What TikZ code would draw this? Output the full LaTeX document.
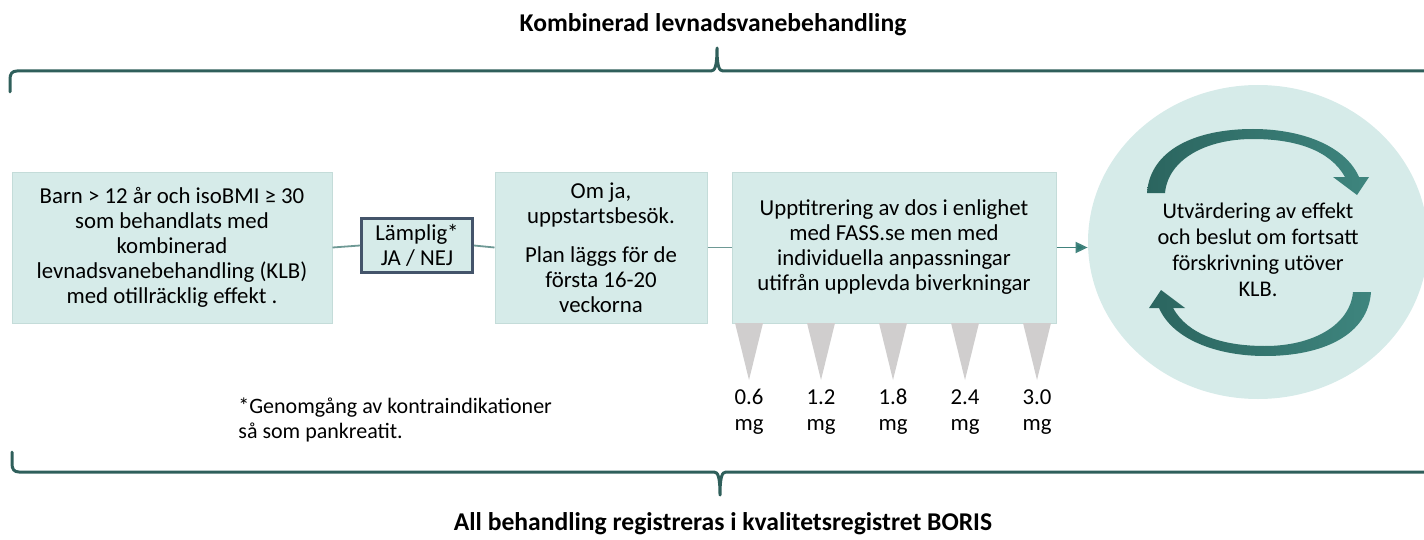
\documentclass[tikz,border=0pt]{standalone}
\usepackage{fontspec}
\setmainfont{Carlito}
\usetikzlibrary{arrows.meta,shapes.geometric}

\definecolor{boxfill}{HTML}{D6EBE9}
\definecolor{boxedge}{HTML}{C4DCD9}
\definecolor{frameblue}{HTML}{44546A}
\definecolor{bracecol}{HTML}{2F5F5B}
\definecolor{linkcol}{HTML}{6E9995}
\definecolor{arrowcol}{HTML}{2E7A72}
\definecolor{cycdark}{HTML}{2B655F}
\definecolor{cyclight}{HTML}{3E857E}
\definecolor{dosetri}{HTML}{D0CECE}

\newcommand{\bodyfont}{\fontsize{11.4}{12.5}\selectfont}
\newcommand{\headfont}{\fontsize{12.8}{14}\selectfont\bfseries}

\begin{document}
\begin{tikzpicture}[x=0.5pt,y=-0.5pt,
  stepbox/.style={fill=boxfill, draw=boxedge, line width=0.5pt, align=center,
    font=\bodyfont, inner sep=0pt},
  choicebox/.style={fill=boxfill, draw=frameblue, line width=1.5pt, align=center,
    font=\bodyfont, inner sep=0pt, minimum width=55.5pt, minimum height=27pt},
  plain/.style={font=\bodyfont, inner sep=0pt, align=center},
  heading/.style={font=\headfont, inner sep=0pt},
  link/.style={draw=linkcol, line width=0.9pt},
  brace/.style={draw=bracecol, line width=1.5pt, line cap=round, line join=round},
  cyclearrow/.style={left color=cycdark, right color=cyclight, draw=none}
]
\useasboundingbox (0,0) rectangle (1424,540);

% headings
\node[heading] (toptitle) at (713,25) {Kombinerad levnadsvanebehandling};
\node[heading] (bottitle) at (723,524) {All behandling registreras i kvalitetsregistret BORIS};

% braces
\draw[brace] (10,92) -- (10,79) .. controls (10,74) and (12,71) .. (17,71)
  -- (711,71) .. controls (715,71) and (717,66) .. (717,48)
  .. controls (717,66) and (719,71) .. (723,71) -- (1430,71);
\draw[brace] (12,452) -- (12,464) .. controls (12,469) and (14,472) .. (19,472)
  -- (714,472) .. controls (718,472) and (720,477) .. (720,495)
  .. controls (720,477) and (722,472) .. (726,472) -- (1430,472);

% process boxes
\node[stepbox, minimum width=160pt, minimum height=75.5pt] (start) at (172,247.5)
  {Barn > 12 år och isoBMI ≥ 30\\som behandlats med\\kombinerad\\levnadsvanebehandling (KLB)\\med otillräcklig effekt .};
\node[choicebox] (choice) at (417,245.5) {Lämplig*\\JA / NEJ};
\node[stepbox, minimum width=106pt, minimum height=75.5pt] (visit) at (601,247.5)
  {Om ja,\\uppstartsbesök.\\[7pt]Plan läggs för de\\första 16-20\\veckorna};
\node[stepbox, minimum width=162pt, minimum height=75.5pt] (titrate) at (894,247.5)
  {Upptitrering av dos i enlighet\\med FASS.se men med\\individuella anpassningar\\utifrån upplevda biverkningar};

% evaluation circle
\node[ellipse, fill=boxfill, draw=none, minimum width=170pt, minimum height=157pt,
  inner sep=0pt] (evalc) at (1258,242) {};
\node[plain, font=\fontsize{11.2}{13}\selectfont] (evalt) at (1258,250)
  {Utvärdering av effekt\\och beslut om fortsatt\\förskrivning utöver\\KLB.};

% cycle arrows inside the circle
\path[cyclearrow] (1147,193) .. controls (1150,150) and (1195,129) .. (1253,129)
  .. controls (1300,129) and (1345,145) .. (1359,177)
  -- (1369,177) -- (1357,195) -- (1333,177) -- (1345,177)
  .. controls (1330,150) and (1295,139) .. (1253,139)
  .. controls (1205,139) and (1168,160) .. (1165,193) -- cycle;
\begin{scope}[rotate around={180:(1259,242.5)}]
\path[cyclearrow] (1147,193) .. controls (1150,150) and (1195,129) .. (1253,129)
  .. controls (1300,129) and (1345,145) .. (1359,177)
  -- (1369,177) -- (1357,195) -- (1333,177) -- (1345,177)
  .. controls (1330,150) and (1295,139) .. (1253,139)
  .. controls (1205,139) and (1168,160) .. (1165,193) -- cycle;
\end{scope}

% connectors
\draw[link] (start.east) -- (choice.west);
\draw[link] (choice.east) -- (visit.west);
\draw[link] (visit.east) -- (titrate.west);
\draw[link, -{Triangle[length=6pt,width=5.5pt,fill=arrowcol]}, draw=arrowcol!70!linkcol]
  (titrate.east) -- (titrate.east -| evalc.west);

% dose steps
\foreach \px/\dose [count=\i] in {749/0.6, 821/1.2, 893/1.8, 965/2.4, 1037/3.0} {
  \fill[dosetri] (\px-14,323) -- (\px+14,323) -- (\px,380) -- cycle;
  \node[plain, font=\fontsize{11.4}{13}\selectfont] (dose\i) at (\px,412) {\dose\\mg};
}

% footnote
\node[plain, align=left, anchor=west, font=\fontsize{11}{12.5}\selectfont] (note) at (238,419.5)
  {*Genomgång av kontraindikationer\\så som pankreatit.};
\end{tikzpicture}
\end{document}
